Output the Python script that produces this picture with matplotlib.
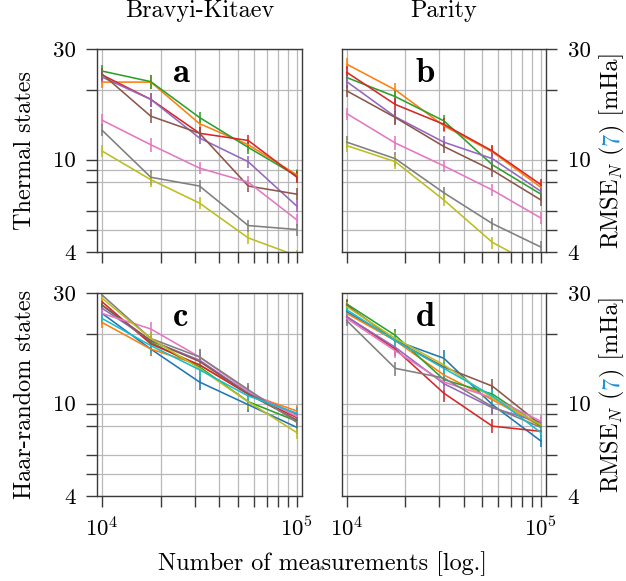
import matplotlib
matplotlib.use("Agg")
import matplotlib.pyplot as plt
import numpy as np

# ---------------- data ----------------
n_meas = [10000, 17783, 31623, 56234, 100000]

colors_all = ["#1f77b4", "#ff7f0e", "#2ca02c", "#d62728", "#9467bd",
              "#8c564b", "#e377c2", "#7f7f7f", "#bcbd22", "#17becf"]

# Thermal states (series colours: orange, green, red, purple, brown, pink, gray, olive)
thermal_colors = ["#ff7f0e", "#2ca02c", "#d62728", "#9467bd",
                  "#8c564b", "#e377c2", "#7f7f7f", "#bcbd22"]
bk_thermal = [
    [21.6, 21.6, 14.3, 11.6, 8.6],   # orange
    [24.1, 21.7, 15.2, 11.3, 8.5],   # green
    [23.2, 18.2, 13.0, 12.1, 8.4],   # red
    [22.7, 18.2, 12.4, 9.8, 6.3],    # purple
    [23.4, 15.4, 13.0, 7.7, 7.1],    # brown
    [14.8, 11.6, 9.2, 8.0, 5.5],     # pink
    [13.4, 8.4, 7.7, 5.2, 5.0],      # gray
    [10.9, 8.2, 6.5, 4.6, 3.85],     # olive
]
parity_thermal = [
    [25.8, 20.0, 14.0, 10.8, 7.6],   # orange
    [22.6, 18.7, 14.7, 9.5, 7.1],    # green
    [23.8, 17.3, 14.2, 10.9, 7.8],   # red
    [21.7, 15.3, 11.9, 10.1, 7.3],   # purple
    [19.8, 15.2, 11.4, 9.0, 6.7],    # brown
    [15.8, 11.8, 9.4, 7.4, 5.6],     # pink
    [11.9, 10.1, 7.2, 5.3, 4.2],     # gray
    [11.5, 9.8, 6.7, 4.4, 3.4],      # olive
]

# Haar-random states (tab10 order: blue ... cyan)
bk_haar = [
    [24.5, 17.2, 12.4, 9.9, 7.9],
    [22.4, 17.2, 14.7, 11.0, 9.3],
    [26.6, 18.4, 14.4, 10.2, 8.4],
    [27.5, 18.1, 14.7, 11.0, 8.7],
    [25.8, 18.7, 15.4, 11.1, 9.0],
    [26.6, 18.7, 15.2, 11.0, 8.5],
    [24.5, 21.0, 15.9, 11.3, 8.8],
    [29.4, 19.1, 15.9, 11.5, 8.3],
    [28.5, 19.1, 14.2, 10.2, 7.5],
    [23.3, 17.8, 14.0, 10.8, 9.1],
]
parity_haar = [
    [24.9, 18.7, 15.7, 9.9, 6.9],
    [24.5, 18.7, 13.3, 10.4, 8.0],
    [26.9, 19.7, 12.7, 11.0, 8.0],
    [23.7, 17.2, 11.1, 8.0, 7.6],
    [23.7, 17.5, 12.2, 9.6, 8.3],
    [26.6, 18.7, 14.4, 11.9, 8.1],
    [23.3, 16.9, 12.4, 10.6, 8.4],
    [22.8, 14.2, 12.9, 9.7, 7.9],
    [26.2, 19.1, 14.7, 10.6, 8.1],
    [25.4, 18.7, 14.2, 10.8, 7.5],
]

rel_err_thermal = [0.06, 0.07, 0.06, 0.06, 0.06]
rel_err_haar = [0.05, 0.07, 0.08, 0.07, 0.06]

ytick_vals = [4, 5, 6, 8, 9, 10, 20, 30]
ytick_labels = ["4", "", "", "", "", "10", "", "30"]

col_titles = ["Bravyi-Kitaev", "Parity"]
row_titles = ["Thermal states", "Haar-random states"]
panel_letters = ["a", "b", "c", "d"]
xlabel = "Number of measurements [log.]"

# ---------------- style ----------------
plt.rcParams["font.family"] = ["cmr10", "DejaVu Serif"]
plt.rcParams["mathtext.fontset"] = "cm"
plt.rcParams["axes.formatter.use_mathtext"] = True

W, H = 626, 581
fig = plt.figure(figsize=(W / 100, H / 100), dpi=100)

def fx(px):
    return px / W

def fy(py):
    return 1 - py / H

ax_left = [97, 341.7]
ax_right = [302, 546]
ax_top = [49, 293]
ax_h = 203

TICK_FS = 16.5
LABEL_FS = 17.4
spine_col = "#3a3a3a"
grid_col = "#b8b8b8"

axes = {}
for r in range(2):
    for c in range(2):
        l = ax_left[c]
        w = ax_right[c] - ax_left[c]
        t = ax_top[r]
        ax = fig.add_axes([fx(l), fy(t + ax_h), w / W, ax_h / H])
        axes[(r, c)] = ax

panels = {(0, 0): (bk_thermal, thermal_colors, rel_err_thermal),
          (0, 1): (parity_thermal, thermal_colors, rel_err_thermal),
          (1, 0): (bk_haar, colors_all, rel_err_haar),
          (1, 1): (parity_haar, colors_all, rel_err_haar)}

for idx, ((r, c), ax) in enumerate(sorted(axes.items())):
    data, cols, rel = panels[(r, c)]
    x = np.array(n_meas, dtype=float)
    for series, col in zip(data, cols):
        y = np.array(series)
        err = y * np.array(rel)
        ax.errorbar(x, y, yerr=err, color=col, lw=1.15, elinewidth=1.15,
                    capsize=0, clip_on=True)
    ax.set_xscale("log")
    ax.set_yscale("log")
    ax.set_xlim(10 ** 3.974, 10 ** 5.026)
    ax.set_ylim(4, 30)
    ax.set_yticks(ytick_vals)
    ax.set_yticklabels(ytick_labels)
    ax.yaxis.set_minor_locator(matplotlib.ticker.NullLocator())
    ax.set_xticks([1e4, 1e5])
    ax.xaxis.set_minor_locator(matplotlib.ticker.LogLocator(base=10, subs=np.arange(2, 10)))
    ax.xaxis.set_minor_formatter(matplotlib.ticker.NullFormatter())
    ax.grid(True, which="both", color=grid_col, lw=0.9)
    ax.set_axisbelow(True)
    for s in ax.spines.values():
        s.set_color(spine_col)
        s.set_linewidth(1.0)
    ax.tick_params(axis="both", which="both", direction="out", length=8,
                   width=1.0, color=spine_col, labelsize=TICK_FS)
    ax.tick_params(axis="x", pad=6.5)
    if c == 0:
        ax.tick_params(axis="y", left=True, right=False, labelleft=True,
                       labelright=False, pad=7.5)
    else:
        ax.tick_params(axis="y", left=False, right=True, labelleft=False,
                       labelright=True, pad=7.5)
    if r == 0:
        ax.tick_params(axis="x", labelbottom=False)
    ax.text(0.41, 0.839, panel_letters[idx], transform=ax.transAxes,
            ha="center", va="baseline", fontsize=25, fontfamily="cmb10")

# column titles
for c in range(2):
    cx = (ax_left[c] + ax_right[c]) / 2
    fig.text(fx(cx), fy(17), col_titles[c], ha="center", va="baseline",
             fontsize=LABEL_FS)

# row titles
for r in range(2):
    cy = ax_top[r] + ax_h / 2
    fig.text(fx(31.5), fy(cy), row_titles[r], rotation=90, rotation_mode="anchor",
             ha="center", va="baseline", fontsize=LABEL_FS)

fig.text(fx(322), fy(570), xlabel, ha="center", va="baseline", fontsize=LABEL_FS)

# right labels with coloured reference number
renderer = fig.canvas.get_renderer()
pieces = [("RMSE$_N$ (", "black"), ("7", "#1f8fd6"), (") [mHa]", "black")]
for r in range(2):
    cy = ax_top[r] + ax_h / 2
    txts = []
    for s, col in pieces:
        t = fig.text(0, 0, s, rotation=90, rotation_mode="anchor", ha="left",
                     va="baseline", fontsize=LABEL_FS, color=col,
                     transform=None)
        txts.append(t)
    lengths = [t.get_window_extent(renderer).height for t in txts]
    total = sum(lengths)
    ypos = (H - cy) - total / 2
    for t, L in zip(txts, lengths):
        t.set_position((618, ypos))
        ypos += L

fig.savefig("out.png", dpi=100)
